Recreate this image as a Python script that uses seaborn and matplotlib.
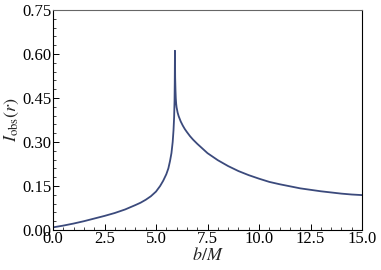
import numpy as np
import pandas as pd
import matplotlib
matplotlib.use("Agg")
import matplotlib.pyplot as plt
import seaborn as sns
from matplotlib.ticker import MultipleLocator, FormatStrFormatter

# data
b_vals = [0.0, 0.5, 1.0, 1.5, 2.0, 2.5, 3.0, 3.5, 4.0, 4.25, 4.5, 4.75, 5.0,
          5.2, 5.35, 5.5, 5.6, 5.68, 5.75, 5.81, 5.85, 5.88, 5.90, 5.91, 5.92,
          5.93, 5.945, 5.96, 5.98, 6.0, 6.05, 6.1, 6.2, 6.3, 6.4, 6.5, 6.65,
          6.8, 7.0, 7.25, 7.5, 7.75, 8.0, 8.5, 9.0, 9.5, 10.0, 10.5, 11.0,
          11.5, 12.0, 12.5, 13.0, 13.5, 14.0, 14.5, 15.0]
I_vals = [0.009, 0.015, 0.022, 0.030, 0.039, 0.048, 0.058, 0.070, 0.085, 0.093,
          0.103, 0.115, 0.131, 0.150, 0.168, 0.190, 0.210, 0.235, 0.262, 0.300,
          0.340, 0.385, 0.440, 0.500, 0.611, 0.520, 0.478, 0.450, 0.430, 0.418,
          0.400, 0.388, 0.370, 0.356, 0.344, 0.334, 0.320, 0.308, 0.294, 0.278,
          0.262, 0.250, 0.238, 0.218, 0.201, 0.187, 0.175, 0.164, 0.156, 0.149,
          0.142, 0.137, 0.132, 0.128, 0.124, 0.121, 0.119]
x_ticks = [0.0, 2.5, 5.0, 7.5, 10.0, 12.5, 15.0]
y_ticks = [0.00, 0.15, 0.30, 0.45, 0.60, 0.75]

df = pd.DataFrame({"b": b_vals, "I": I_vals})

sns.set_theme(style="ticks")
plt.rcParams["font.family"] = ["Liberation Serif", "DejaVu Serif"]
plt.rcParams["mathtext.fontset"] = "stix"

fig = plt.figure(figsize=(3.81, 2.70), dpi=100)
ax = fig.add_axes([53 / 381, 40 / 270, 309 / 381, 220 / 270])

sns.lineplot(data=df, x="b", y="I", ax=ax, color="#3b4a7c", linewidth=1.3,
             sort=False, estimator=None)

ax.set_xlim(0, 15)
ax.set_ylim(0, 0.75)
ax.set_xticks(x_ticks)
ax.set_yticks(y_ticks)
ax.xaxis.set_major_formatter(FormatStrFormatter("%.1f"))
ax.yaxis.set_major_formatter(FormatStrFormatter("%.2f"))
ax.xaxis.set_minor_locator(MultipleLocator(0.5))
ax.yaxis.set_minor_locator(MultipleLocator(0.03))

ax.tick_params(axis="both", which="major", direction="in", length=4, width=0.7,
               labelsize=12, pad=1, colors="black", top=False, right=False)
ax.tick_params(axis="both", which="minor", direction="in", length=2, width=0.6,
               top=False, right=False)

for name, sp in ax.spines.items():
    sp.set_linewidth(0.8)
    sp.set_color("black")
ax.spines["top"].set_color("#666666")

ax.set_xlabel("$b/M$", fontsize=13, labelpad=0)
ax.set_ylabel(r"$I_{\mathrm{obs}}(r)$", fontsize=13, labelpad=1)

fig.savefig("out.png", dpi=100)
